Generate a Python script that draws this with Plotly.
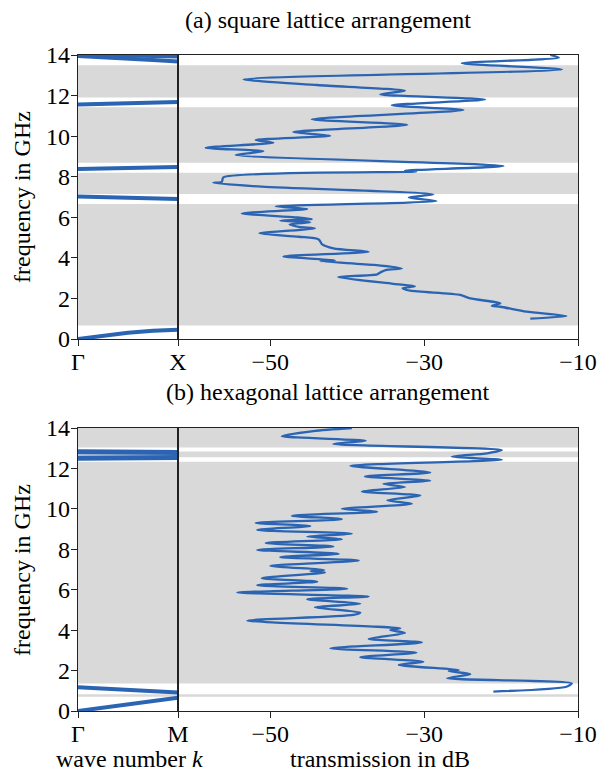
import plotly.graph_objects as go

W, H = 602, 773
FONT = "Liberation Serif"
BLUE = "#2a64b2"
GREY = "#d9d9d9"
AX = "#222222"

# ---------------- data: (a) square lattice ----------------
sq_freq = [1.00, 1.13, 1.35, 1.59, 1.63, 1.76, 2.00, 2.17, 2.38, 2.50, 2.60, 2.72,
           3.05, 3.19, 3.30, 3.40, 3.48, 3.65, 3.84, 3.88, 4.07, 4.30, 4.47, 4.68,
           4.91, 5.04, 5.21, 5.45, 5.53, 5.65, 5.75, 5.83, 5.91, 6.00, 6.19, 6.41,
           6.54, 6.80, 6.98, 7.13, 7.51, 7.70, 7.75, 7.97, 8.25, 8.30, 8.53, 9.07,
           9.25, 9.43, 9.68, 9.81, 10.02, 10.20, 10.56, 10.83, 11.29, 11.52, 11.81,
           12.06, 12.24, 12.52, 12.80, 13.29, 13.59, 13.87, 14.00]
sq_db = [-16.2, -11.5, -16.7, -20.1, -21.2, -20.1, -24.0, -25.3, -31.8, -32.8, -31.2, -34.0,
         -41.2, -36.1, -35.6, -35.0, -32.9, -36.5, -43.5, -41.6, -48.3, -37.2, -41.8, -43.3,
         -43.7, -46.3, -51.4, -44.2, -46.3, -47.5, -44.8, -48.7, -44.6, -46.8, -53.7, -45.2,
         -49.3, -28.4, -32.0, -28.8, -51.1, -57.4, -56.3, -56.1, -31.0, -32.5, -19.7, -54.5,
         -50.9, -58.4, -49.6, -51.9, -42.2, -47.0, -32.2, -44.6, -24.9, -34.2, -22.1,
         -35.7, -32.5, -43.9, -53.5, -12.1, -25.1, -12.5, -13.6]
sq_gaps = [(0.66, 6.65), (7.15, 8.20), (8.69, 11.42), (11.91, 13.50)]
sq_k = [0.0, 0.25, 0.5, 0.75, 1.0]
sq_bands = [
    [0.00, 0.17, 0.31, 0.41, 0.46],
    [7.02, 7.00, 6.97, 6.93, 6.90],
    [8.38, 8.41, 8.43, 8.46, 8.48],
    [11.56, 11.59, 11.62, 11.65, 11.68],
    [13.95, 13.90, 13.83, 13.75, 13.68],
    [14.02, 14.00, 13.98, 13.95, 13.92],
]

# ---------------- data: (b) hexagonal lattice ----------------
hx_freq = [0.96, 1.20, 1.37, 1.62, 1.82, 1.98, 2.03, 2.28, 2.44, 2.66, 2.89, 3.10,
           3.39, 3.57, 3.86, 4.01, 4.09, 4.47, 4.75, 4.87, 5.13, 5.30, 5.53, 5.66,
           5.86, 6.05, 6.22, 6.40, 6.57, 6.85, 6.92, 6.98, 7.18, 7.44, 7.61, 7.78,
           7.97, 8.14, 8.31, 8.50, 8.63, 8.77, 8.96, 9.15, 9.30, 9.49, 9.66, 9.86,
           10.00, 10.25, 10.42, 10.66, 10.86, 11.08, 11.24, 11.39, 11.60, 11.80,
           12.13, 12.43, 12.58, 12.75, 12.91, 13.21, 13.37, 13.60, 13.85, 14.00]
hx_db = [-21.0, -11.5, -10.8, -27.0, -24.0, -26.8, -25.5, -33.3, -30.1, -38.3, -31.0, -42.2,
         -30.3, -37.2, -32.5, -34.4, -33.1, -53.0, -39.2, -38.3, -44.2, -38.3, -45.2, -37.2,
         -54.3, -40.0, -51.7, -43.9, -51.1, -42.9, -44.8, -43.0, -50.0, -38.5, -48.7, -41.1,
         -51.7, -41.8, -50.6, -40.7, -45.2, -39.4, -51.7, -44.8, -51.9, -40.7, -47.2, -36.1,
         -40.7, -31.6, -34.8, -30.5, -38.1, -32.5, -35.3, -29.2, -37.7, -29.2,
         -39.6, -19.9, -26.4, -21.8, -19.9, -41.8, -37.6, -48.5, -44.4, -39.4]
hx_gaps = [(0.70, 0.83), (1.36, 12.33), (12.55, 12.84), (13.04, 14.0)]
hx_k = [0.0, 0.25, 0.5, 0.75, 1.0]
hx_bands = [
    [0.00, 0.17, 0.34, 0.50, 0.66],
    [1.17, 1.10, 1.03, 0.97, 0.92],
    [12.50, 12.51, 12.52, 12.53, 12.54],
    [12.82, 12.81, 12.80, 12.80, 12.79],
]
hx_band_widths = [4, 4, 5, 5]

freq_ticks = [0, 2, 4, 6, 8, 10, 12, 14]
db_ticks = [-50, -30, -10]

# ---------------- figure ----------------
fig = go.Figure()

def px_x(p):
    return p / W

def px_y(p):
    return (H - p) / H

xl = [px_x(78), px_x(178)]
xr = [px_x(178), px_x(578)]
top_dom = [px_y(339), px_y(55)]
bot_dom = [px_y(711), px_y(428)]

for b in sq_bands:
    fig.add_trace(go.Scatter(x=sq_k, y=b, mode="lines", line=dict(color=BLUE, width=4),
                             xaxis="x", yaxis="y", showlegend=False, hoverinfo="skip"))
fig.add_trace(go.Scatter(x=sq_db, y=sq_freq, mode="lines",
                         line=dict(color=BLUE, width=2.3, shape="spline", smoothing=0.7),
                         xaxis="x2", yaxis="y2", showlegend=False))
for b, w in zip(hx_bands, hx_band_widths):
    fig.add_trace(go.Scatter(x=hx_k, y=b, mode="lines", line=dict(color=BLUE, width=w),
                             xaxis="x3", yaxis="y3", showlegend=False, hoverinfo="skip"))
fig.add_trace(go.Scatter(x=hx_db, y=hx_freq, mode="lines",
                         line=dict(color=BLUE, width=2.3, shape="spline", smoothing=0.7),
                         xaxis="x4", yaxis="y4", showlegend=False))

shapes = []
for gaps, pairs in ((sq_gaps, [("x", "y"), ("x2", "y2")]), (hx_gaps, [("x3", "y3"), ("x4", "y4")])):
    for (a, b) in gaps:
        for xa, ya in pairs:
            shapes.append(dict(type="rect", xref=f"{xa} domain", yref=ya, x0=0, x1=1,
                               y0=a, y1=b, fillcolor=GREY, line=dict(width=0), layer="below"))

tickfont = dict(family=FONT, size=24, color="black")
common = dict(showline=True, mirror=True, linecolor=AX, linewidth=1.3, showgrid=False,
              zeroline=False, ticks="outside", ticklen=6, tickcolor=AX, tickfont=tickfont,
              automargin=False)
xcommon = dict(common, ticklabelstandoff=-5)
ycommon = dict(common, ticklabelstandoff=-4)

fig.update_layout(
    template="none",
    width=W, height=H, autosize=False,
    margin=dict(l=0, r=0, t=0, b=0, pad=0),
    paper_bgcolor="white", plot_bgcolor="white",
    shapes=shapes,
    xaxis=dict(domain=xl, range=[0, 1], tickvals=[0, 1], ticktext=["Γ", "X"], anchor="y", **xcommon),
    yaxis=dict(domain=top_dom, range=[0, 14], tickvals=freq_ticks, anchor="x", **ycommon),
    xaxis2=dict(domain=xr, range=[-62, -10], tickvals=db_ticks, anchor="y2", **xcommon),
    yaxis2=dict(domain=top_dom, range=[0, 14], anchor="x2", showticklabels=False,
                **{**common, "ticks": ""}),
    xaxis3=dict(domain=xl, range=[0, 1], tickvals=[0, 1], ticktext=["Γ", "M"], anchor="y3", **xcommon),
    yaxis3=dict(domain=bot_dom, range=[0, 14], tickvals=freq_ticks, anchor="x3", **ycommon),
    xaxis4=dict(domain=xr, range=[-62, -10], tickvals=db_ticks, anchor="y4", **xcommon),
    yaxis4=dict(domain=bot_dom, range=[0, 14], anchor="x4", showticklabels=False,
                **{**common, "ticks": ""}),
)

lab = dict(family=FONT, size=24, color="black")
annos = [
    dict(text="(a) square lattice arrangement", x=px_x(328), y=px_y(20)),
    dict(text="(b) hexagonal lattice arrangement", x=px_x(328), y=px_y(392)),
    dict(text="wave number <i>k</i>", x=px_x(129), y=px_y(759)),
    dict(text="transmission in dB", x=px_x(380), y=px_y(759)),
    dict(text="frequency in GHz", x=px_x(22), y=px_y(197), textangle=-90),
    dict(text="frequency in GHz", x=px_x(22), y=px_y(570), textangle=-90),
]
for a in annos:
    fig.add_annotation(xref="paper", yref="paper", xanchor="center", yanchor="middle",
                       showarrow=False, font=lab, **a)

fig.write_html("out.html", config={"displayModeBar": False},
               post_script="document.body.style.margin='0px';")
